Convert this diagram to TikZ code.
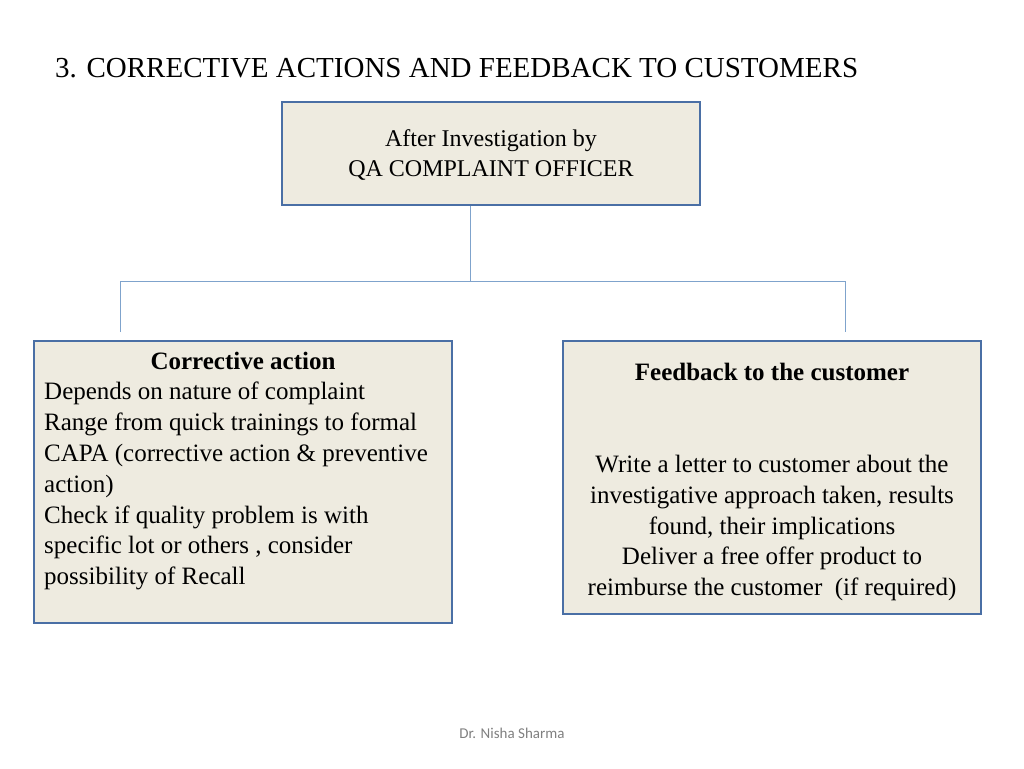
\documentclass[tikz,border=0pt]{standalone}
\usepackage{fontspec}
\setmainfont{Liberation Serif}
\newfontfamily\foot{Carlito}
\newfontfamily\titlefont{Liberation Serif}
\definecolor{boxfill}{HTML}{EEEBE0}
\definecolor{boxline}{HTML}{4A6FA5}
\definecolor{conn}{HTML}{7FA3CC}
\begin{document}
\begin{tikzpicture}[x=1pt,y=-1pt,
  panel/.style={draw=boxline,line width=2pt,fill=boxfill,inner sep=0pt},
  conline/.style={draw=conn,line width=1pt},
  body/.style={font=\rmfamily\fontsize{25}{30.8}\selectfont,inner sep=0pt}]
\useasboundingbox (0,0) rectangle (1024,768);
\node[font=\titlefont\fontsize{29}{32}\selectfont,anchor=west,inner sep=0pt] (title) at (55,68) {3. CORRECTIVE ACTIONS AND FEEDBACK TO CUSTOMERS};
\node[panel,minimum width=418pt,minimum height=103pt] (top) at (491,153.5) {};
\node[body,align=center,font=\rmfamily\fontsize{24}{30.8}\selectfont] (toptxt) at (491,155) {After Investigation by\\QA COMPLAINT OFFICER};
\node[panel,minimum width=418pt,minimum height=282pt] (left) at (243,482) {};
\node[panel,minimum width=418pt,minimum height=273pt] (right) at (772,477.5) {};
\coordinate (j) at (470,281);
\coordinate (jl) at (120,281);
\coordinate (jr) at (845,281);
\coordinate (el) at (120,332);
\coordinate (er) at (845,332);
\draw[conline] (top.south -| j) -- (j);
\draw[conline] (el) -- (jl) -- (jr) -- (er);
\node[body,font=\rmfamily\fontsize{25}{30.8}\selectfont\bfseries] (lt) at (243,361) {Corrective action};
\node[body,align=left,anchor=north west] (lb) at (44,382) {Depends on nature of complaint\\Range from quick trainings to formal\\CAPA (corrective action \& preventive\\action)\\Check if quality problem is with\\specific lot or others , consider\\possibility of Recall};
\node[body,font=\rmfamily\fontsize{25}{30.8}\selectfont\bfseries] (rt) at (772,372) {Feedback to the customer};
\node[body,align=center,anchor=north] (rb) at (772,455) {Write a letter to customer about the\\investigative approach taken, results\\found, their implications\\Deliver a free offer product to\\reimburse the customer~ (if required)};
\node[font=\foot\fontsize{15}{18}\selectfont,text=gray] (ft) at (512,733) {Dr. Nisha Sharma};
\end{tikzpicture}
\end{document}
